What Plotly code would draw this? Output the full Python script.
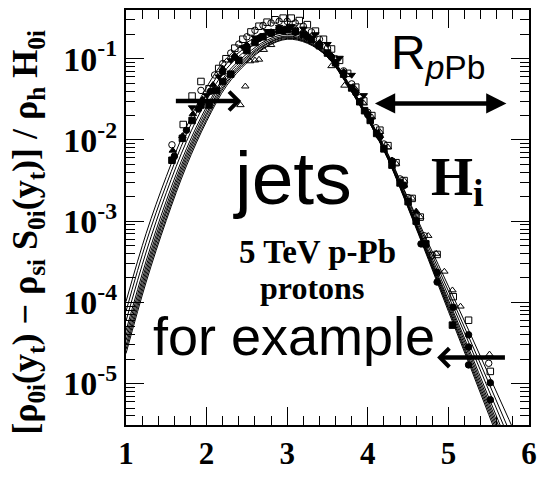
import plotly.graph_objects as go

# ---------------- data (log10 of the ordinate) -------------
yt_grid = [1.0, 1.25, 1.5, 1.75, 2.0, 2.25, 2.5, 2.75, 3.0, 3.25, 3.5,
           3.75, 4.0, 4.25, 4.5, 4.75, 5.0, 5.25, 5.5, 5.75, 6.0]

curve_0 = [-3.99, -3.15, -2.45, -1.84, -1.35, -0.99, -0.80, -0.67, -0.63, -0.72, -0.92,
           -1.28, -1.70, -2.17, -2.72, -3.27, -3.80, -4.34, -4.89, -5.44, -6.00]
curve_1 = [-4.11, -3.26, -2.55, -1.93, -1.43, -1.06, -0.85, -0.70, -0.65, -0.74, -0.93,
           -1.29, -1.71, -2.18, -2.74, -3.31, -3.86, -4.42, -4.99, -5.57, -6.15]
curve_2 = [-4.23, -3.38, -2.65, -2.02, -1.51, -1.12, -0.89, -0.74, -0.68, -0.75, -0.94,
           -1.30, -1.72, -2.20, -2.77, -3.35, -3.92, -4.49, -5.08, -5.67, -6.27]
curve_3 = [-4.35, -3.49, -2.75, -2.11, -1.59, -1.18, -0.94, -0.77, -0.70, -0.77, -0.95,
           -1.31, -1.73, -2.21, -2.79, -3.38, -3.97, -4.56, -5.17, -5.77, -6.38]
curve_4 = [-4.41, -3.55, -2.81, -2.16, -1.63, -1.21, -0.97, -0.79, -0.72, -0.78, -0.96,
           -1.31, -1.73, -2.22, -2.80, -3.40, -4.00, -4.60, -5.22, -5.83, -6.45]
curve_5 = [-4.47, -3.60, -2.86, -2.20, -1.67, -1.25, -0.99, -0.81, -0.73, -0.79, -0.97,
           -1.32, -1.74, -2.22, -2.81, -3.42, -4.03, -4.64, -5.26, -5.88, -6.50]
curve_6 = [-4.53, -3.65, -2.90, -2.24, -1.70, -1.28, -1.01, -0.82, -0.74, -0.80, -0.97,
           -1.32, -1.74, -2.23, -2.82, -3.44, -4.06, -4.68, -5.30, -5.92, -6.55]
curve_7 = [-4.58, -3.70, -2.95, -2.28, -1.74, -1.30, -1.03, -0.84, -0.75, -0.80, -0.98,
           -1.33, -1.75, -2.23, -2.83, -3.45, -4.08, -4.71, -5.34, -5.97, -6.60]
curve_8 = [-4.63, -3.75, -2.99, -2.32, -1.77, -1.33, -1.05, -0.85, -0.76, -0.81, -0.98,
           -1.33, -1.75, -2.24, -2.84, -3.47, -4.11, -4.74, -5.38, -6.02, -6.66]
curves = [curve_0, curve_1, curve_2, curve_3, curve_4, curve_5, curve_6, curve_7, curve_8]

fsq_x = [1.57, 1.70, 1.82, 1.93, 2.03, 2.12, 2.20, 2.30, 2.40, 2.50, 2.60, 2.70, 2.80, 2.90,
         3.00, 3.10, 3.20, 3.30, 3.40, 3.50, 3.60, 3.70, 3.80, 3.90, 3.96, 4.03, 4.11, 4.20,
         4.30, 4.40, 4.50, 4.60, 4.72, 5.05]
fsq_y = [-2.25, -1.98, -1.76, -1.57, -1.57, -1.39, -1.28, -1.19, -1.02, -0.90, -0.80, -0.73,
         -0.68, -0.65, -0.64, -0.66, -0.70, -0.76, -0.84, -0.93, -1.05, -1.19, -1.36, -1.53,
         -1.64, -1.76, -1.92, -2.11, -2.31, -2.53, -2.76, -3.00, -3.28, -4.28]

osq_x = [1.71, 1.82, 1.93, 2.03, 2.15, 2.24, 2.35, 2.45, 2.55, 2.65, 2.75, 2.85, 2.95, 3.05,
         3.15, 3.25, 3.35, 3.45, 3.55, 3.65, 3.75, 3.85, 3.95, 4.05, 4.15, 4.25, 4.35, 4.45,
         4.55, 4.65, 4.86, 5.06, 5.25, 5.52]
osq_y = [-1.81, -1.46, -1.28, -1.37, -1.12, -1.00, -0.87, -0.76, -0.67, -0.60, -0.55, -0.52,
         -0.50, -0.50, -0.53, -0.58, -0.66, -0.76, -0.88, -1.02, -1.18, -1.35, -1.52, -1.70,
         -1.88, -2.07, -2.28, -2.50, -2.72, -2.95, -3.41, -3.93, -4.22, -4.85]

oci_x = [1.57, 1.93, 2.10, 2.20, 2.30, 2.40, 2.50, 2.60, 2.70, 2.80, 2.90, 3.00, 3.10, 3.20,
         3.30, 3.40, 3.50, 3.60, 3.70, 3.80, 3.90, 4.00, 4.10, 4.20, 4.30, 4.40, 4.50, 4.60,
         4.70, 4.80, 5.50]
oci_y = [-2.06, -1.39, -1.20, -1.06, -0.93, -0.82, -0.73, -0.65, -0.59, -0.56, -0.54, -0.54,
         -0.56, -0.60, -0.67, -0.76, -0.87, -1.00, -1.15, -1.31, -1.48, -1.66, -1.85, -2.05,
         -2.26, -2.48, -2.71, -2.94, -3.18, -3.42, -4.75]

otr_x = [2.42, 2.48, 2.54, 2.60, 2.65, 2.71, 2.80, 2.90, 3.00, 3.10, 3.20, 3.30, 3.40, 3.55,
         3.71, 3.85, 3.95, 4.05, 4.15, 4.25, 4.35, 4.45, 4.55, 4.65, 4.75, 4.85, 4.95, 5.05,
         5.15, 5.51]
otr_y = [-1.57, -1.34, -1.03, -1.02, -1.01, -0.89, -0.83, -0.66, -0.62, -0.62, -0.66, -0.72,
         -0.80, -1.09, -1.33, -1.38, -1.55, -1.72, -1.90, -2.09, -2.29, -2.50, -2.72, -2.95,
         -3.18, -3.40, -3.62, -3.85, -4.05, -4.64]

fci_x = [1.60, 1.75, 1.90, 2.05, 2.20, 2.35, 2.50, 2.65, 2.80, 2.95, 3.10, 3.25, 3.40, 3.55,
         3.70, 3.85, 4.00, 4.15, 4.30, 4.45, 4.66, 4.86, 4.86, 5.06, 5.25, 5.25, 5.25, 5.52, 5.52]
fci_y = [-2.20, -1.88, -1.62, -1.40, -1.16, -0.98, -0.85, -0.75, -0.69, -0.66, -0.67, -0.73,
         -0.83, -0.98, -1.18, -1.42, -1.69, -1.96, -2.26, -2.56, -3.28, -3.63, -3.75, -4.06,
         -4.40, -4.55, -4.77, -4.99, -5.20]

ftr_x = [1.58, 1.70, 1.83, 1.95, 2.08, 2.20, 2.35, 2.50, 2.65, 2.80, 2.95, 3.10, 3.25, 3.40,
         3.55, 3.70, 3.85, 4.00, 4.15, 4.30, 4.45, 4.60]
ftr_y = [-2.13, -1.95, -1.68, -1.50, -1.32, -1.12, -0.96, -0.83, -0.74, -0.67, -0.64, -0.65,
         -0.71, -0.81, -0.96, -1.16, -1.40, -1.67, -1.95, -2.25, -2.56, -2.88]

itr_x = [1.82, 2.00, 2.15, 2.30, 2.45, 2.60, 2.75, 2.90, 3.05, 3.20, 3.35, 3.50, 3.65, 3.80, 3.95]
itr_y = [-1.60, -1.45, -1.22, -1.02, -0.86, -0.74, -0.66, -0.61, -0.60, -0.63, -0.70, -0.82,
         -0.99, -1.20, -1.45]

x_tick_vals = [1, 2, 3, 4, 5, 6]
y_tick_exps = [-5, -4, -3, -2, -1]

# ---------------- figure -------------
fig = go.Figure()

for c in curves:
    fig.add_trace(go.Scatter(x=yt_grid, y=[10 ** v for v in c], mode="lines",
                             line=dict(color="black", width=1, shape="spline"),
                             showlegend=False, hoverinfo="skip"))

marker_sets = [
    (osq_x, osq_y, "square-open"),
    (oci_x, oci_y, "circle-open"),
    (otr_x, otr_y, "triangle-up-open"),
    (fsq_x, fsq_y, "square"),
    (fci_x, fci_y, "circle"),
    (ftr_x, ftr_y, "triangle-up"),
    (itr_x, itr_y, "triangle-down"),
]
for xs, ys, sym in marker_sets:
    fig.add_trace(go.Scatter(x=xs, y=[10 ** v for v in ys], mode="markers",
                             marker=dict(symbol=sym, size=6.5, color="black",
                                         line=dict(color="black", width=1)),
                             showlegend=False, hoverinfo="skip"))

serif = "Liberation Serif"
sans = "Liberation Sans"

fig.update_xaxes(range=[1, 6], showline=True, linecolor="black", linewidth=2, mirror="allticks",
                 ticks="inside", ticklen=18, tickwidth=1, tickcolor="black",
                 tickvals=x_tick_vals, ticktext=[str(v) for v in x_tick_vals],
                 tickfont=dict(family=serif, size=31, color="black", weight="bold"),
                 minor=dict(dtick=0.2, ticks="inside", ticklen=9, tickwidth=1, tickcolor="black"),
                 showgrid=False, zeroline=False)
fig.update_yaxes(type="log", range=[-5.51, -0.40], showline=True, linecolor="black", linewidth=2,
                 mirror="allticks", ticks="inside", ticklen=18, tickwidth=1, tickcolor="black",
                 tickvals=[10 ** e for e in y_tick_exps],
                 ticktext=["10<sup>%d</sup>" % e for e in y_tick_exps],
                 tickfont=dict(family=serif, size=34, color="black", weight="bold"),
                 minor=dict(dtick="D1", ticks="inside", ticklen=9, tickwidth=1, tickcolor="black"),
                 showgrid=False, zeroline=False)

def pap(px, py):
    return (px - 126) / 409.0, (441 - py) / 433.0

ann = []
def text(px, py, s, fam, size, bold=False):
    x, y = pap(px, py)
    ann.append(dict(xref="paper", yref="paper", x=x, y=y, text=s, showarrow=False,
                    xanchor="center", yanchor="middle", borderpad=0,
                    font=dict(family=fam, size=size, color="black",
                              weight="bold" if bold else "normal")))

text(295, 183, "jets", sans, 75)
text(320, 261, "5 TeV p-Pb", serif, 33, True)
text(315, 298, "protons", serif, 32, True)
text(297, 348, "for example", sans, 54)
text(462, 186, "H<sub>i</sub>", serif, 54, True)
text(443, 56, "R<sub><i>p</i>Pb</sub>", sans, 48)

# y-axis title
tx, ty = pap(26, 240)
ann.append(dict(xref="paper", yref="paper", x=tx, y=ty, textangle=-90, showarrow=False,
                xanchor="center", yanchor="middle",
                text="[ρ<sub>0i</sub>(y<sub>t</sub>) − ρ<sub>si</sub> S<sub>0i</sub>(y<sub>t</sub>)] / ρ<sub>h</sub> H<sub>0i</sub>",
                font=dict(family=serif, size=36, color="black", weight="bold")))

# arrows (data coordinates, log10 for y)
ann.append(dict(xref="x", yref="y", axref="x", ayref="y", x=2.43, y=-1.52, ax=1.60, ay=-1.52,
                showarrow=True, arrowhead=4, arrowsize=0.8, arrowwidth=4.5, arrowcolor="black", text=""))
ann.append(dict(xref="x", yref="y", axref="x", ayref="y", x=5.72, y=-1.55, ax=4.07, ay=-1.55,
                showarrow=True, arrowhead=2, startarrowhead=2, arrowside="end+start",
                arrowsize=0.9, startarrowsize=0.9, arrowwidth=4.5, arrowcolor="black", text=""))
ann.append(dict(xref="x", yref="y", axref="x", ayref="y", x=4.86, y=-4.68, ax=5.72, ay=-4.68,
                showarrow=True, arrowhead=4, arrowsize=0.8, arrowwidth=4.5, arrowcolor="black", text=""))

fig.update_layout(width=545, height=479, margin=dict(l=126, r=10, t=8, b=38),
                  paper_bgcolor="white", plot_bgcolor="white", annotations=ann)

fig.write_html("out.html")
